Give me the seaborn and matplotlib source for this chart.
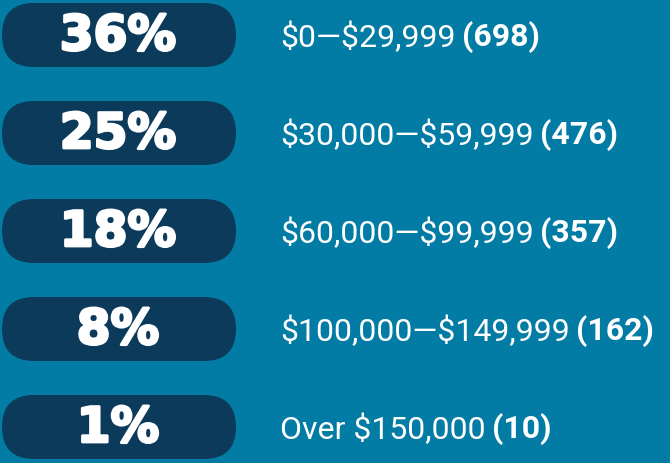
import matplotlib
matplotlib.use("Agg")
import matplotlib.pyplot as plt
import matplotlib.patheffects as pe
import seaborn as sns
from matplotlib.patches import FancyBboxPatch

# ── Data ─────────────────────────────────────────────────────────────────────
percents = [36, 25, 18, 8, 1]
ranges = ["$0\u2014$29,999", "$30,000\u2014$59,999", "$60,000\u2014$99,999",
          "$100,000\u2014$149,999", "Over $150,000"]
counts = [698, 476, 357, 162, 10]

BG = "#027ca5"
PILL = "#0b3a5b"

sns.set_theme(style="white", rc={"axes.facecolor": BG, "figure.facecolor": BG})
plt.rcParams["font.family"] = ["Roboto", "DejaVu Sans"]

fig = plt.figure(figsize=(6.7, 4.64), dpi=100)
ax = fig.add_axes([0, 0, 1, 1])
ax.set_xlim(0, 670)
ax.set_ylim(464, 0)
ax.axis("off")

row_h = 98
for i, (p, r, c) in enumerate(zip(percents, ranges, counts)):
    yc = 36 + i * row_h
    pill = FancyBboxPatch((2 + 32, yc), 234 - 64, 0,
                          boxstyle="round,pad=32,rounding_size=32",
                          fc=PILL, ec="none")
    ax.add_patch(pill)
    ax.text(118, yc + 1, f"{p}%", ha="center", va="center", color="white",
            fontsize=35, fontweight="bold", family=["DejaVu Sans"],
            parse_math=False,
            path_effects=[pe.withStroke(linewidth=2, foreground="white")])
    t = ax.text(280, yc + 1, r, ha="left", va="center", color="white",
                fontsize=23, parse_math=False)
    ax.annotate(f"({c})", xy=(1, 0), xycoords=t, xytext=(6, 0),
                textcoords="offset pixels", ha="left", va="bottom",
                color="white", fontsize=23, fontweight="bold")

fig.savefig("out.png", dpi=100, facecolor=BG)
